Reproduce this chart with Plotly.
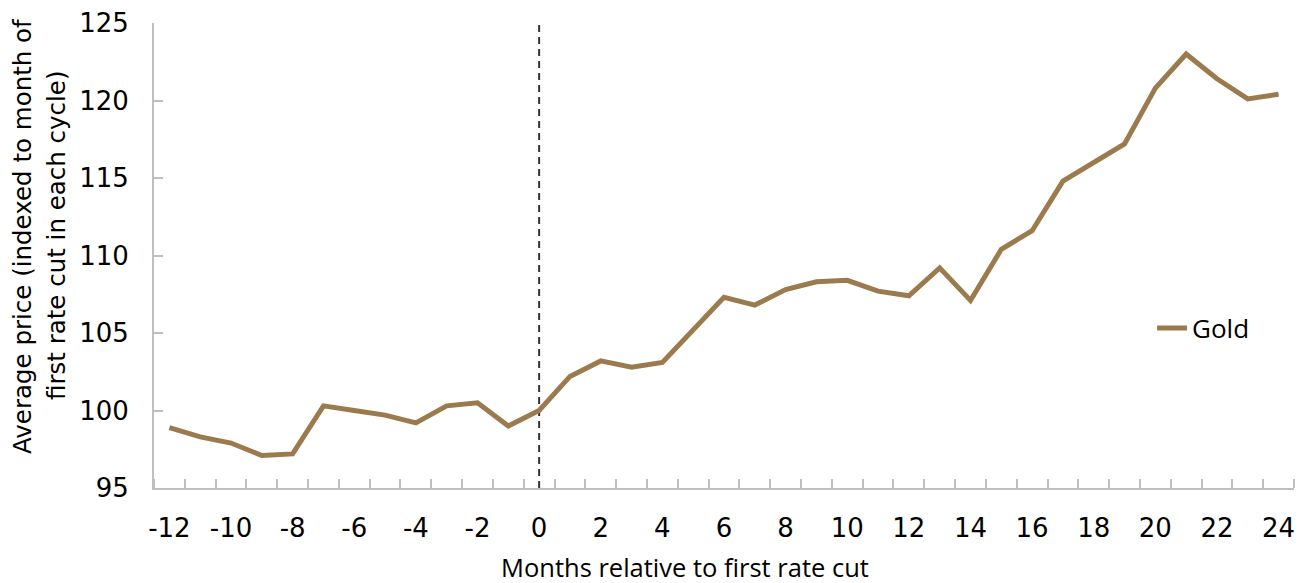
import plotly.graph_objects as go

months = list(range(-12, 25))
gold = [98.9, 98.3, 97.9, 97.1, 97.2, 100.3, 100.0, 99.7, 99.2, 100.3, 100.5, 99.0,
        100.0, 102.2, 103.2, 102.8, 103.1, 105.2, 107.3, 106.8, 107.8, 108.3, 108.4,
        107.7, 107.4, 109.2, 107.1, 110.4, 111.6, 114.8, 116.0, 117.2, 120.8, 123.0,
        121.4, 120.1, 120.4]
x_tick_vals = list(range(-12, 25, 2))
x_tick_text = [str(v) for v in x_tick_vals]  # plain hyphen minus
y_tick_vals = [95, 100, 105, 110, 115, 120, 125]
y_title_lines = ["Average price (indexed to month of", "first rate cut in each cycle)"]
x_title = "Months relative to first rate cut"

LINE = "#9B7B4E"
AX = "#BFBFBF"

fig = go.Figure()
fig.add_trace(go.Scatter(x=months, y=gold, mode="lines", name="Gold",
                         line=dict(color=LINE, width=5)))
fig.add_shape(type="line", xref="x", yref="y", x0=0, x1=0, y0=95, y1=125,
              line=dict(color="#333333", width=2, dash="7px,5px"), layer="below")

# y-axis title as two rotated lines
for xpx, txt in zip([23, 57], y_title_lines):
    fig.add_annotation(text=txt, xref="paper", yref="paper",
                       x=(xpx - 154) / 1140, y=(488 - 236) / 465,
                       xanchor="center", yanchor="middle", textangle=-90,
                       showarrow=False,
                       font=dict(family="DejaVu Sans", size=24.5, color="#000000"))

# x-axis title
fig.add_annotation(text=x_title, xref="paper", yref="paper",
                   x=(685 - 154) / 1140, y=(488 - 567) / 465,
                   xanchor="center", yanchor="middle", showarrow=False,
                   font=dict(family="Open Sans", size=25.5, color="#000000"))

fig.update_layout(
    width=1309, height=583,
    margin=dict(l=154, r=15, t=23, b=95, autoexpand=False),
    plot_bgcolor="white", paper_bgcolor="white",
    showlegend=True,
    legend=dict(x=0.8755, y=0.344, xanchor="left", yanchor="middle",
                font=dict(family="Open Sans", size=26, color="#000000"),
                bgcolor="rgba(0,0,0,0)"),
)
fig.update_xaxes(
    range=[-12.5, 24.5], tickvals=x_tick_vals, ticktext=x_tick_text, ticks="",
    showgrid=False, showline=True, linecolor=AX, linewidth=2, automargin=False,
    tickfont=dict(family="DejaVu Sans", size=26, color="#000000"),
    ticklabelstandoff=16,
    minor=dict(ticks="inside", ticklen=9, tickcolor=AX, tickwidth=2,
               tick0=-12.5, dtick=1, showgrid=False),
    zeroline=False,
)
fig.update_yaxes(
    range=[95, 125], tickvals=y_tick_vals, ticks="inside", ticklen=9,
    tickcolor=AX, tickwidth=2, showgrid=False, automargin=False,
    showline=True, linecolor=AX, linewidth=2,
    tickfont=dict(family="DejaVu Sans", size=26, color="#000000"),
    ticklabelstandoff=18,
    zeroline=False,
)

fig.write_html("out.html")
